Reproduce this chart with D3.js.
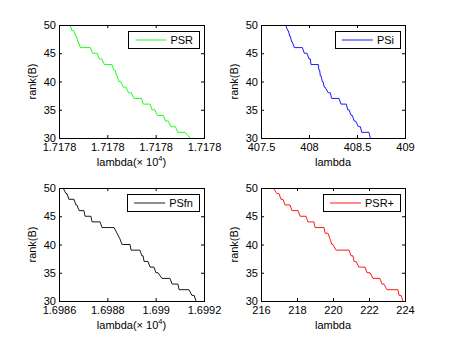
<!DOCTYPE html>
<html><head><meta charset="utf-8">
<script src="https://cdn.jsdelivr.net/npm/d3@7"></script>
<style>
body{margin:0;background:#fff}
svg{display:block}
text{font-family:"Liberation Sans",Arial,Helvetica,sans-serif}
</style>
</head><body>
<svg id="c" width="457" height="344"></svg>
<script>
// ---- data ----
const ranks = [50,49,48,47,46,45,44,43,42,41,40,39,38,37,36,35,34,33,32,31,30];

// plateau start / end lambda for each rank
const psrIn  = [17177.843,17177.853,17177.869,17177.878,17177.889,17177.939,17177.966,17177.988,17178.027,17178.038,17178.047,17178.066,17178.088,17178.110,17178.149,17178.185,17178.207,17178.241,17178.263,17178.291,17178.342];
const psrOut = [17177.846,17177.861,17177.872,17177.880,17177.930,17177.958,17177.977,17178.019,17178.033,17178.041,17178.055,17178.077,17178.099,17178.141,17178.177,17178.196,17178.232,17178.252,17178.282,17178.322,17178.342];

const psiIn  = [407.757,407.778,407.799,407.819,407.847,407.951,408.000,408.021,408.104,408.118,408.139,408.160,408.201,408.236,408.333,408.403,408.438,408.472,408.514,408.549,408.639];
const psiOut = [407.757,407.785,407.806,407.826,407.931,407.979,408.014,408.097,408.111,408.125,408.146,408.167,408.222,408.313,408.389,408.417,408.451,408.486,408.535,408.625,408.639];

const psfnIn  = [16986.17,16986.29,16986.41,16986.70,16986.83,16987.08,16987.37,16987.78,16988.40,16988.52,16988.61,16988.98,16989.43,16989.52,16989.77,16990.01,16990.26,16990.68,16990.97,16991.50,16991.67];
const psfnOut = [16986.17,16986.33,16986.62,16986.74,16987.03,16987.32,16987.70,16988.28,16988.40,16988.52,16988.94,16989.35,16989.48,16989.68,16989.93,16990.10,16990.59,16990.92,16991.38,16991.59,16991.67];

const psrpIn  = [216.67,216.89,217.11,217.33,217.72,218.17,218.61,219.00,219.56,219.83,219.94,220.17,221.00,221.17,221.44,221.89,222.22,222.72,223.00,223.67,223.89];
const psrpOut = [216.67,217.00,217.22,217.61,218.06,218.50,218.94,219.50,219.72,219.83,220.00,220.89,221.11,221.28,221.78,222.06,222.61,222.83,223.61,223.78,223.89];

const yTicks = [30,35,40,45,50];
const psrTicks = [17177.8,17178.0,17178.2,17178.4];
const psrTickLabels = ["1.7178","1.7178","1.7178","1.7178"];
const psiTicks = [407.5,408,408.5,409];
const psiTickLabels = ["407.5","408","408.5","409"];
const psfnTicks = [16986,16988,16990,16992];
const psfnTickLabels = ["1.6986","1.6988","1.699","1.6992"];
const psrpTicks = [216,218,220,222,224];
const psrpTickLabels = ["216","218","220","222","224"];

const panels = [
  {name:"PSR",  color:"#00ff00", lin:psrIn,  lout:psrOut,  dom:[17177.8,17178.4], ticks:psrTicks,  labels:psrTickLabels,  exp:true,  left:59,  top:25,  w:145},
  {name:"PSi",  color:"#0000ff", lin:psiIn,  lout:psiOut,  dom:[407.5,409],       ticks:psiTicks,  labels:psiTickLabels,  exp:false, left:261, top:25,  w:144},
  {name:"PSfn", color:"#000000", lin:psfnIn, lout:psfnOut, dom:[16986,16992],     ticks:psfnTicks, labels:psfnTickLabels, exp:true,  left:59,  top:188, w:145},
  {name:"PSR+", color:"#ff0000", lin:psrpIn, lout:psrpOut, dom:[216,224],         ticks:psrpTicks, labels:psrpTickLabels, exp:false, left:261, top:188, w:144}
];
const H = 113;
const FS = 11;

const svg = d3.select("#c");

panels.forEach(p => {
  const x = d3.scaleLinear().domain(p.dom).range([p.left, p.left + p.w]);
  const y = d3.scaleLinear().domain([30,50]).range([p.top + H, p.top]);
  const g = svg.append("g");

  // clip
  const cid = "clip" + p.left + "_" + p.top;
  svg.append("clipPath").attr("id", cid).append("rect")
    .attr("x", p.left).attr("y", p.top).attr("width", p.w).attr("height", H);

  // line
  const pts = [];
  ranks.forEach((r, i) => { pts.push([p.lin[i], r]); pts.push([p.lout[i], r]); });
  g.append("path").datum(pts)
    .attr("clip-path", `url(#${cid})`)
    .attr("fill", "none").attr("stroke", p.color).attr("stroke-width", 0.9)
    .attr("d", d3.line().x(d => x(d[0])).y(d => y(d[1])));

  // axes
  const ax = (a) => a.tickSizeInner(-3).tickSizeOuter(0);
  const bottom = g.append("g").attr("transform", `translate(0,${p.top + H})`)
    .call(ax(d3.axisBottom(x).tickValues(p.ticks).tickFormat((d, i) => p.labels[i]).tickPadding(5)));
  const left = g.append("g").attr("transform", `translate(${p.left},0)`)
    .call(ax(d3.axisLeft(y).tickValues(yTicks)).tickPadding(3));
  const top = g.append("g").attr("transform", `translate(0,${p.top})`)
    .call(ax(d3.axisTop(x).tickValues(p.ticks).tickFormat("")));
  const right = g.append("g").attr("transform", `translate(${p.left + p.w},0)`)
    .call(ax(d3.axisRight(y).tickValues(yTicks).tickFormat("")));
  [bottom, left, top, right].forEach(s => {
    s.select(".domain").remove();
    s.selectAll("line").attr("stroke", "#000");
    s.selectAll("text").attr("fill", "#000").attr("font-size", FS).attr("font-family", null);
  });

  // box
  g.append("rect").attr("x", p.left + 0.5).attr("y", p.top + 0.5)
    .attr("width", p.w).attr("height", H)
    .attr("fill", "none").attr("stroke", "#000").attr("stroke-width", 1);

  // x label
  const xl = g.append("text").attr("x", p.left + p.w / 2).attr("y", p.top + H + 28)
    .attr("text-anchor", "middle").attr("font-size", FS).attr("fill", "#000");
  if (p.exp) {
    xl.append("tspan").text("lambda(\u00d7 10");
    xl.append("tspan").attr("font-size", 7.5).attr("dy", -5).text("4");
    xl.append("tspan").attr("dy", 5).text(")");
  } else {
    xl.text("lambda");
  }

  // y label
  g.append("text")
    .attr("transform", `translate(${p.left - 23},${p.top + H / 2}) rotate(-90)`)
    .attr("text-anchor", "middle").attr("font-size", FS).attr("fill", "#000")
    .text("rank(B)");

  // legend
  const lg = g.append("g");
  const tx = lg.append("text").attr("font-size", FS).attr("fill", "#000").text(p.name);
  const tw = tx.node().getComputedTextLength();
  const lw = 7 + 31 + 4 + tw + 6;
  const lx = p.left + p.w - 5 - lw;
  const ly = p.top + 6;
  lg.insert("rect", "text").attr("x", Math.round(lx) + 0.5).attr("y", ly + 0.5)
    .attr("width", Math.round(lw)).attr("height", 17)
    .attr("fill", "#fff").attr("stroke", "#000").attr("stroke-width", 1);
  lg.append("line").attr("x1", lx + 7).attr("x2", lx + 38)
    .attr("y1", ly + 9).attr("y2", ly + 9)
    .attr("stroke", p.color).attr("stroke-width", 0.9);
  tx.attr("x", lx + 42).attr("y", ly + 13);
});
</script>
</body></html>
